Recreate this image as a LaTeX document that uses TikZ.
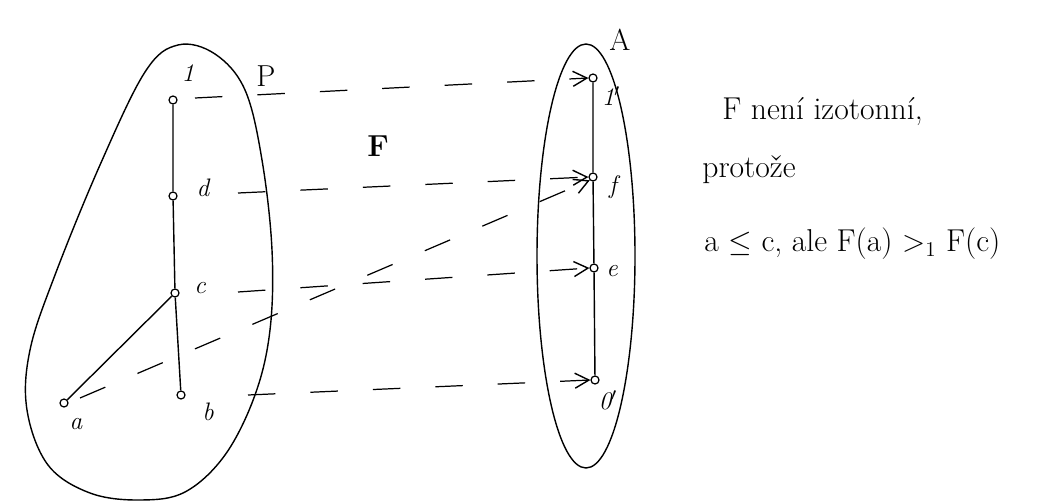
\documentclass[tikz,border=0pt]{standalone}
\usepackage{amssymb}
\usetikzlibrary{arrows.meta}
\begin{document}
\begin{tikzpicture}[x=0.02cm,y=-0.02cm,
  pt/.style={circle,draw,line width=0.7pt,inner sep=0pt,minimum size=0.16cm,fill=white},
  lbl/.style={font=\Large\itshape,inner sep=1pt},
  blob/.style={draw,line width=0.8pt},
  hasse/.style={draw,line width=0.8pt},
  maparrow/.style={draw,line width=0.7pt,dash pattern=on 0.55cm off 0.7cm,-{Straight Barb[length=0.28cm,width=0.3cm,line width=0.8pt]}},
  txt/.style={font=\fontsize{18}{22}\selectfont,anchor=west,inner sep=0pt}]
\useasboundingbox (0,0) rectangle (1051,503);
% P blob
\draw[blob] plot[smooth cycle,tension=0.6] coordinates {(178,45) (215,54) (245,90) (262,160) (272,250) (270,330) (255,395) (225,455) (185,492) (140,500) (90,493) (48,465) (27,410) (30,350) (55,275) (100,165) (145,72)};
% A ellipse
\draw[blob] (586,256) ellipse [x radius=49,y radius=212];
% P nodes
\node[pt] (one) at (173,100) {};
\node[pt] (d) at (173,196) {};
\node[pt] (c) at (175,293) {};
\node[pt] (a) at (64,403) {};
\node[pt] (b) at (181,395) {};
\node[lbl] at (188,73) {1};
\node[lbl] at (203,188) {d};
\node[lbl] at (200,288) {c};
\node[lbl] at (76,424) {a};
\node[lbl] at (208,412) {b};
\draw[hasse] (one) -- (d) -- (c) -- (b);
\draw[hasse] (c) -- (a);
% A nodes
\node[pt] (oneA) at (593,78) {};
\node[pt] (f) at (593,177) {};
\node[pt] (e) at (594,268) {};
\node[pt] (zeroA) at (595,380) {};
\node[lbl] at (611,96) {1$'$};
\node[lbl] at (613,187) {f};
\node[lbl] at (612,271) {e};
\node[lbl] at (608,400) {0$'$};
\draw[hasse] (oneA) -- (f) -- (e) -- (zeroA);
% set labels
\node[lbl,font=\LARGE] at (266,76) {P};
\node[lbl,font=\LARGE] at (620,40) {A};
\node[lbl,font=\LARGE\bfseries] at (378,146) {F};
% mapping arrows
\coordinate (s1) at (195,98);
\coordinate (sd) at (238,193);
\coordinate (sc) at (238,292);
\coordinate (sb) at (248,395);
\coordinate (sa) at (80,398);
\draw[maparrow] (s1) -- (oneA.west);
\draw[maparrow] (sd) -- (f.west);
\draw[maparrow] (sc) -- (e.west);
\draw[maparrow] (sb) -- (zeroA.west);
\draw[maparrow] (sa) -- (f.south west);
% text
\node[txt] (t1) at (722,112) {F není izotonní,};
\node[txt] (t2) at (702,170) {protože};
\node[txt] (t3) at (704,244) {a $\leq$ c, ale F(a) $>_1$ F(c)};
\end{tikzpicture}
\end{document}
